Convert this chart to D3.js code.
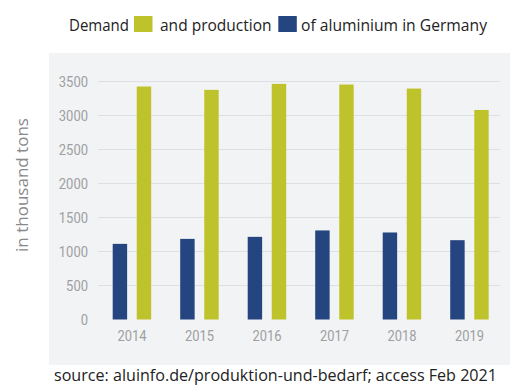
<!DOCTYPE html>
<html>
<head>
<meta charset="utf-8">
<script src="https://cdn.jsdelivr.net/npm/d3@7"></script>
<style>
  html, body { margin: 0; padding: 0; background: #ffffff; }
  svg { display: block; }
</style>
</head>
<body>
<svg id="chart" width="510" height="385"></svg>
<script>
const years = ["2014", "2015", "2016", "2017", "2018", "2019"];
const production = [1110, 1183, 1213, 1307, 1277, 1164];
const demand = [3419, 3370, 3458, 3448, 3389, 3075];
const yTicks = [0, 500, 1000, 1500, 2000, 2500, 3000, 3500];
const seriesKeys = ["production", "demand"];

const COLORS = { production: "#24457f", demand: "#bfc32b" };

const svg = d3.select("#chart");

// gray panel
svg.append("rect")
  .attr("x", 49).attr("y", 53).attr("width", 461).attr("height", 312)
  .attr("fill", "#f2f3f4");

const y = d3.scaleLinear().domain([0, 3500]).range([319.5, 81]);
const x = d3.scaleBand().domain(years).range([112.7, 488.7]).paddingInner(0.43).paddingOuter(0);
const xi = d3.scaleBand().domain(seriesKeys).range([0, x.bandwidth()]).paddingInner(0.4).paddingOuter(0);

// gridlines
svg.append("g")
  .selectAll("line")
  .data(yTicks.filter(d => d > 0))
  .join("line")
  .attr("x1", 98).attr("x2", 500)
  .attr("y1", d => Math.round(y(d)) + 0.5)
  .attr("y2", d => Math.round(y(d)) + 0.5)
  .attr("stroke", "#dde0e3").attr("stroke-width", 1);

// y axis labels
const yAxis = svg.append("g")
  .attr("transform", "translate(88,0)")
  .call(d3.axisLeft(y).tickValues(yTicks).tickSize(0).tickPadding(0).tickFormat(d3.format("d")));
yAxis.select(".domain").remove();
yAxis.selectAll("text")
  .attr("font-family", "Roboto, sans-serif")
  .attr("font-size", 15)
  .attr("fill", "#9d9fa2")
  .attr("dy", "0.36em")
  .attr("textLength", function(d) { return String(d).length * 7.3; })
  .attr("lengthAdjust", "spacingAndGlyphs");

// x axis labels
const xAxis = svg.append("g")
  .attr("transform", "translate(0,330)")
  .call(d3.axisBottom(x).tickSize(0).tickPadding(0));
xAxis.select(".domain").remove();
xAxis.selectAll("text")
  .attr("font-family", "Roboto, sans-serif")
  .attr("font-size", 15)
  .attr("fill", "#9d9fa2")
  .attr("dy", "0.71em")
  .attr("textLength", 29)
  .attr("lengthAdjust", "spacingAndGlyphs");

// bars
const rows = years.map((yr, i) => ({ year: yr, production: production[i], demand: demand[i] }));
const groups = svg.append("g").selectAll("g")
  .data(rows).join("g")
  .attr("transform", d => `translate(${x(d.year)},0)`);
groups.selectAll("rect")
  .data(d => seriesKeys.map(k => ({ key: k, value: d[k] })))
  .join("rect")
  .attr("x", d => xi(d.key))
  .attr("width", xi.bandwidth())
  .attr("y", d => y(d.value))
  .attr("height", d => y(0) - y(d.value))
  .attr("fill", d => COLORS[d.key]);

// y axis title
svg.append("text")
  .attr("transform", "translate(28,185) rotate(-90)")
  .attr("text-anchor", "middle")
  .attr("font-family", "'Open Sans', sans-serif")
  .attr("font-size", 17)
  .attr("fill", "#8a8a8a")
  .text("in thousand tons");

// title with inline legend swatches
const title = svg.append("g").attr("font-family", "'Open Sans', sans-serif").attr("font-size", 15.5).attr("fill", "#222");
const parts = [
  { type: "text", text: "Demand", x: 69, w: 60 },
  { type: "box", key: "demand", x: 134 },
  { type: "text", text: "and production", x: 160, w: 111.5 },
  { type: "box", key: "production", x: 278.3 },
  { type: "text", text: "of aluminium in Germany", x: 301, w: 186 }
];
parts.forEach(p => {
  if (p.type === "text") {
    title.append("text").attr("x", p.x).attr("y", 31)
      .attr("textLength", p.w).attr("lengthAdjust", "spacingAndGlyphs")
      .text(p.text);
  } else {
    title.append("rect").attr("x", p.x).attr("y", 16).attr("width", 18.5).attr("height", 16)
      .attr("fill", COLORS[p.key]);
  }
});

// source
svg.append("text")
  .attr("x", 54).attr("y", 381)
  .attr("font-family", "'Open Sans', sans-serif")
  .attr("font-size", 15.5)
  .attr("fill", "#222")
  .attr("textLength", 443).attr("lengthAdjust", "spacingAndGlyphs")
  .text("source: aluinfo.de/produktion-und-bedarf; access Feb 2021");
</script>
</body>
</html>
